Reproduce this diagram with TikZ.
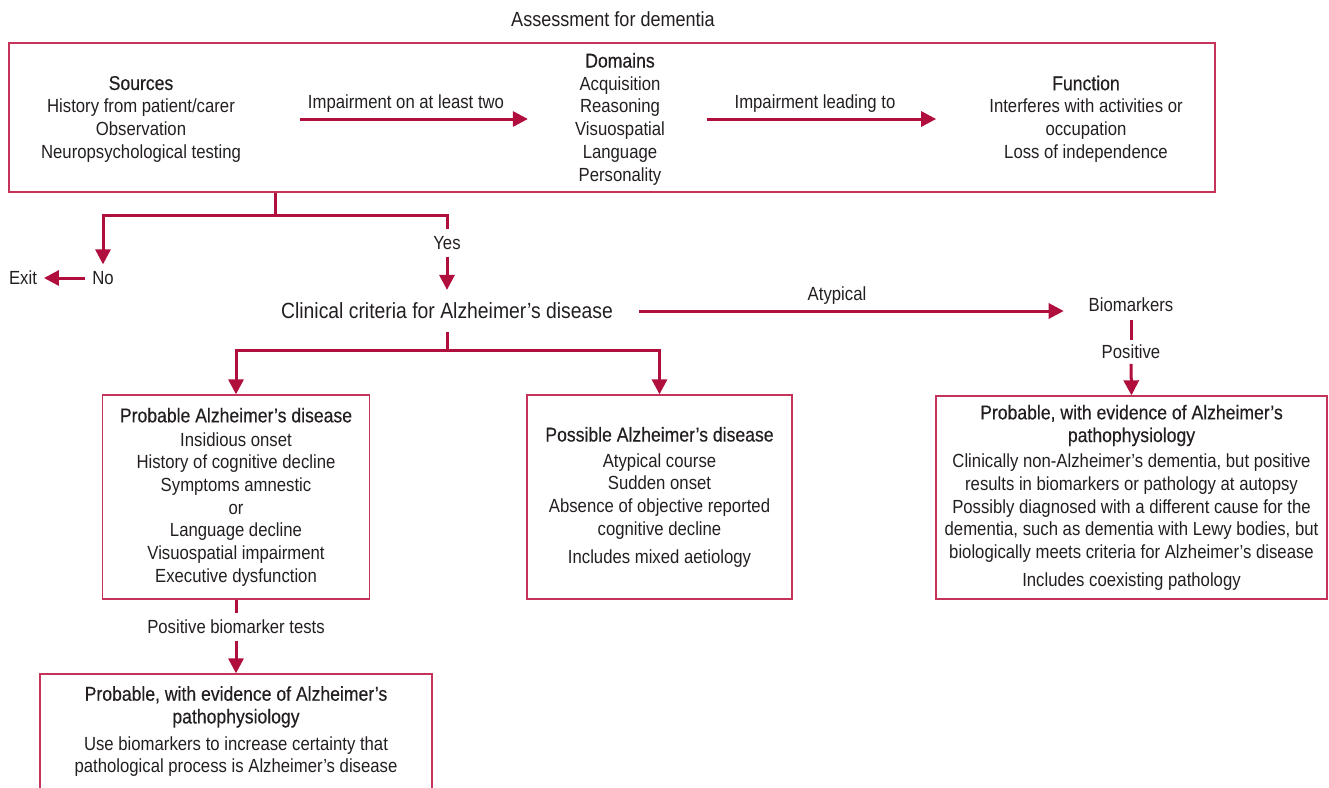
\documentclass[tikz,border=0pt]{standalone}
\usepackage{fontspec}
\setmainfont[FakeStretch=0.88]{Liberation Sans}
\newfontfamily\headfam[FakeStretch=0.88,FakeBold=0.4]{Liberation Sans}
\usetikzlibrary{arrows.meta}
\definecolor{arrowred}{RGB}{176,14,60}
\definecolor{boxred}{RGB}{196,52,90}
\definecolor{txt}{RGB}{35,31,32}
\newcommand{\bodyfont}{\fontsize{19}{22.7}\selectfont}
\newcommand{\hd}[1]{{\headfam\fontsize{20}{22.7}\selectfont #1}}

\begin{document}
\begin{tikzpicture}[x=1pt,y=1pt,yscale=-1,xscale=1,
  txtnode/.style={text=txt,font=\bodyfont,align=center,inner sep=2pt},
  lab/.style={txtnode,inner sep=0pt,outer sep=7pt},
  boxnode/.style={txtnode,draw=boxred,line width=1.3pt},
  link/.style={draw=arrowred,line width=3pt},
  arr/.style={link,-{Triangle[length=15pt,width=15pt]}}]
\useasboundingbox (0,0) rectangle (1329,787);
\clip (0,0) rectangle (1329,787);

%Shape: Rectangle
\node[boxnode,minimum width=1206,minimum height=149] (assess) at (612,117.5) {};
% Text Node
\node[txtnode,font=\fontsize{20.5}{24}\selectfont] (title) at (613,19) {Assessment for dementia};
% Text Node
\node[txtnode] (sources) at (141,119) {\hd{Sources}\\History from patient/carer\\Observation\\Neuropsychological testing};
% Text Node
\node[txtnode] (domains) at (620,119) {\hd{Domains}\\Acquisition\\Reasoning\\Visuospatial\\Language\\Personality};
% Text Node
\node[txtnode] (function) at (1086,119) {\hd{Function}\\Interferes with activities or\\occupation\\Loss of independence};
% Text Node
\node[txtnode] (imptwo) at (406,104) {Impairment on at least two};
% Text Node
\node[txtnode] (implead) at (815,104) {Impairment leading to};

% Text Node
\node[lab] (no) at (103,278) {No};
% Text Node
\node[lab] (exit) at (23,278) {Exit};
% Text Node
\node[lab] (yes) at (447,243) {Yes};
% Text Node
\node[txtnode,inner sep=0pt,outer xsep=26pt,outer ysep=13pt,font=\fontsize{22}{26}\selectfont] (clin) at (447,311) {Clinical criteria for Alzheimer’s disease};
% Text Node
\node[txtnode] (atyp) at (837,296) {Atypical};
% Text Node
\node[txtnode,inner sep=0pt,outer xsep=25pt,outer ysep=8pt] (bio) at (1131,305) {Biomarkers};
% Text Node
\node[lab,outer sep=5pt] (pos) at (1131,352) {Positive};
% Text Node
\node[lab] (pbt) at (236,627) {Positive biomarker tests};

%Shape: Rectangle
\node[boxnode,minimum width=267,minimum height=204] (probL) at (236,497) {\hd{Probable Alzheimer’s disease}\\[1pt]Insidious onset\\History of cognitive decline\\Symptoms amnestic\\or\\Language decline\\Visuospatial impairment\\Executive dysfunction};
%Shape: Rectangle
\node[boxnode,minimum width=265,minimum height=204] (possible) at (659.5,497) {\hd{Possible Alzheimer’s disease}\\[3pt]Atypical course\\Sudden onset\\Absence of objective reported\\cognitive decline\\[5pt]Includes mixed aetiology};
%Shape: Rectangle
\node[boxnode,minimum width=391,minimum height=203] (probR) at (1131.5,497.5) {\hd{Probable, with evidence of Alzheimer’s}\\\hd{pathophysiology}\\[3pt]Clinically non-Alzheimer’s dementia, but positive\\results in biomarkers or pathology at autopsy\\Possibly diagnosed with a different cause for the\\dementia, such as dementia with Lewy bodies, but\\biologically meets criteria for Alzheimer’s disease\\[5pt]Includes coexisting pathology};
%Shape: Rectangle
\node[boxnode,minimum width=392,minimum height=115] (probB) at (236,731.5) {\hd{Probable, with evidence of Alzheimer’s}\\\hd{pathophysiology}\\[4pt]Use biomarkers to increase certainty that\\pathological process is Alzheimer’s disease};

%Straight Lines
\draw[arr,shorten <=57pt,shorten >=45pt] (sources.east) -- (domains.west);
\draw[arr,shorten <=40pt,shorten >=51pt] (domains.east) -- (function.west);
\coordinate (split1) at (275,215);
\draw[arr] (assess.south -| split1) -- (split1) -| (no.north);
\draw[link] (split1) -| (yes.north);
\draw[arr] (yes.south) -- (clin.north);
\draw[arr] (no.west) -- (exit.east);
\draw[arr] (clin.east) -- (clin.east -| bio.west);
\draw[link] (bio.south) -- (pos.north);
\draw[arr] (pos.south) -- (probR.north);
\coordinate (split2) at (447,350);
\draw[arr] (clin.south) -- (split2) -| (probL.north);
\draw[arr] (split2) -| (possible.north);
\draw[link] (probL.south) -- (pbt.north);
\draw[arr] (pbt.south) -- (probB.north);
\end{tikzpicture}
\end{document}
